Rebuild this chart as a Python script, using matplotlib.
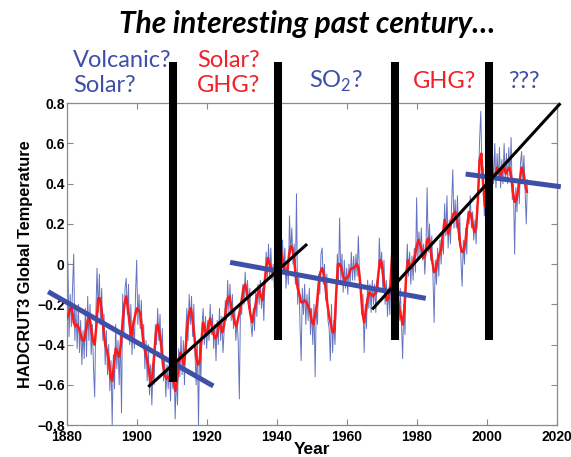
import matplotlib
matplotlib.use("Agg")
import matplotlib.pyplot as plt
import numpy as np

# ---------------- data ----------------
# smoothed series (red), every half year from 1880.0
red_vals = [
    -0.27, -0.25, -0.22, -0.22, -0.29, -0.31, -0.30, -0.32, -0.35, -0.38,
    -0.38, -0.33, -0.28, -0.26, -0.32, -0.38, -0.40, -0.30, -0.17, -0.17,
    -0.23, -0.32, -0.40, -0.43, -0.47, -0.56, -0.58, -0.50, -0.42, -0.44,
    -0.46, -0.40, -0.28, -0.20, -0.16, -0.22, -0.30, -0.36, -0.30, -0.26,
    -0.22, -0.23, -0.24, -0.32, -0.40, -0.44, -0.48, -0.53, -0.59, -0.55,
    -0.45, -0.34, -0.30, -0.34, -0.40, -0.50, -0.55, -0.57, -0.56, -0.58,
    -0.55, -0.58, -0.63, -0.58, -0.50, -0.44, -0.46, -0.50, -0.42, -0.30,
    -0.24, -0.22, -0.28, -0.36, -0.46, -0.50, -0.48, -0.38, -0.29, -0.33,
    -0.35, -0.30, -0.27, -0.31, -0.35, -0.37, -0.35, -0.29, -0.31, -0.34,
    -0.30, -0.22, -0.17, -0.16, -0.21, -0.25, -0.29, -0.31, -0.27, -0.23,
    -0.18, -0.12, -0.10, -0.14, -0.19, -0.25, -0.29, -0.24, -0.20, -0.15,
    -0.13, -0.16, -0.18, -0.10, -0.02, 0.03, 0.00, -0.02, -0.05, -0.06,
    0.00, 0.07, 0.09, 0.04, -0.01, -0.05, -0.04, 0.04, 0.09, 0.08,
    0.02, -0.06, -0.12, -0.15, -0.19, -0.19, -0.18, -0.19, -0.21, -0.23,
    -0.28, -0.30, -0.25, -0.20, -0.10, -0.04, -0.02, -0.05, -0.12, -0.20,
    -0.26, -0.30, -0.34, -0.33, -0.15, 0.00, 0.00, -0.02, -0.06, -0.08,
    -0.07, -0.06, -0.03, -0.02, -0.02, -0.01, 0.00, -0.03, -0.12, -0.24,
    -0.29, -0.23, -0.17, -0.14, -0.15, -0.16, -0.15, -0.14, -0.06, 0.02,
    0.01, -0.07, -0.14, -0.18, -0.17, -0.10, 0.05, 0.06, -0.10, -0.17,
    -0.21, -0.26, -0.30, -0.22, -0.06, 0.02, 0.00, -0.02, 0.01, 0.04,
    0.09, 0.12, 0.10, 0.07, 0.03, 0.05, 0.12, 0.13, 0.07, 0.01,
    -0.04, -0.03, 0.02, 0.05, 0.07, 0.15, 0.22, 0.19, 0.15, 0.18,
    0.22, 0.25, 0.26, 0.23, 0.17, 0.09, 0.06, 0.07, 0.12, 0.20,
    0.26, 0.25, 0.20, 0.16, 0.18, 0.32, 0.52, 0.55, 0.40, 0.29,
    0.30, 0.34, 0.41, 0.46, 0.45, 0.44, 0.48, 0.46, 0.44, 0.47,
    0.48, 0.45, 0.47, 0.48, 0.44, 0.36, 0.31, 0.32, 0.37, 0.42,
    0.48, 0.46, 0.40, 0.36,
]

# raw series (thin blue), three readings per year from 1880
blue_vals = [
    -0.30, 0.01, -0.36,   -0.15, -0.31, -0.12,   0.05, -0.38, -0.22,
    -0.42, -0.20, -0.44,  -0.28, -0.50, -0.33,   -0.47, -0.22, -0.46,
    -0.16, -0.38, -0.20,  -0.45, -0.30, -0.52,   -0.66, -0.25, -0.02,
    -0.24, -0.05, -0.30,  -0.12, -0.38, -0.25,   -0.50, -0.33, -0.55,
    -0.40, -0.63, -0.48,  -0.80, -0.45, -0.62,   -0.30, -0.52, -0.38,
    -0.60, -0.35, -0.74,  -0.15, -0.36, -0.12,   -0.07, -0.25, -0.10,
    -0.40, -0.20, -0.45,  -0.28, -0.42, -0.15,   0.02, -0.30, -0.15,
    -0.32, -0.18, -0.40,  -0.30, -0.52, -0.38,   -0.58, -0.40, -0.65,
    -0.50, -0.70, -0.52,  -0.60, -0.30, -0.40,   -0.22, -0.38, -0.25,
    -0.45, -0.32, -0.58,  -0.48, -0.66, -0.50,   -0.62, -0.48, -0.68,
    -0.46, -0.62, -0.50,  -0.77, -0.55, -0.70,   -0.42, -0.56, -0.36,
    -0.55, -0.38, -0.60,  -0.35, -0.22, -0.38,   -0.15, -0.30, -0.16,
    -0.36, -0.20, -0.45,  -0.60, -0.40, -0.80,   -0.38, -0.58, -0.30,
    -0.22, -0.40, -0.26,  -0.42, -0.28, -0.38,   -0.20, -0.35, -0.25,
    -0.42, -0.30, -0.48,  -0.28, -0.40, -0.22,   -0.38, -0.26, -0.44,
    -0.33, -0.18, -0.28,  -0.08, -0.24, -0.10,   -0.28, -0.15, -0.32,
    -0.22, -0.38, -0.28,  -0.38, -0.67, -0.20,   -0.25, -0.10, -0.20,
    -0.04, -0.18, -0.08,  -0.22, -0.12, -0.30,   -0.36, -0.22, -0.33,
    -0.14, -0.26, -0.10,  -0.20, -0.08, -0.22,   -0.12, -0.28, -0.06,
    0.06, -0.08, 0.10,    -0.06, 0.08, -0.08,    0.00, -0.12, 0.15,
    -0.04, 0.12, -0.02,   0.27, 0.02, 0.12,      -0.04, 0.08, -0.12,
    0.00, -0.10, 0.24,    0.05, 0.18, 0.00,      0.10, -0.10, 0.35,
    -0.20, -0.05, -0.30,  -0.48, -0.12, -0.25,   -0.10, -0.30, -0.15,
    -0.28, -0.12, -0.35,  -0.22, -0.40, -0.20,   -0.56, -0.20, -0.30,
    -0.05, -0.15, 0.05,   0.08, -0.10, 0.00,     -0.18, -0.05, -0.28,
    -0.32, -0.48, -0.20,  -0.44, -0.28, -0.40,   -0.22, 0.05, -0.08,
    0.23, -0.08, 0.05,    -0.14, 0.02, -0.12,    -0.02, -0.15, 0.00,
    -0.10, 0.06, -0.08,   0.04, -0.08, 0.05,     -0.06, 0.14, -0.04,
    -0.08, -0.25, -0.15,  -0.44, -0.20, -0.32,   -0.08, -0.22, -0.10,
    -0.24, -0.08, -0.20,  -0.10, -0.24, -0.08,   -0.12, 0.13, -0.02,
    0.06, -0.12, 0.02,    -0.20, -0.08, -0.26,   -0.12, -0.25, -0.05,
    0.12, -0.02, 0.10,    -0.06, -0.20, -0.08,   -0.28, -0.12, -0.30,
    -0.47, -0.20, -0.35,  -0.05, 0.10, -0.06,    0.06, -0.10, 0.04,
    -0.08, 0.08, -0.04,   0.33, 0.02, 0.16,      0.04, 0.18, 0.02,
    0.10, -0.05, 0.08,    0.38, 0.06, 0.20,      0.02, 0.14, -0.06,
    -0.29, 0.02, -0.10,   0.08, -0.06, 0.12,     0.00, 0.14, 0.05,
    0.30, 0.14, 0.34,     0.08, 0.22, 0.10,      0.30, 0.47, 0.18,
    0.32, 0.18, 0.34,     0.12, 0.24, 0.02,      -0.11, 0.12, 0.00,
    0.18, 0.05, 0.26,     0.20, 0.34, 0.18,      0.26, 0.12, 0.22,
    0.10, 0.28, 0.40,     0.62, 0.76, 0.45,      0.48, 0.24, 0.36,
    0.24, 0.38, 0.30,     0.48, 0.35, 0.56,      0.40, 0.60, 0.38,
    0.55, 0.42, 0.58,     0.38, 0.52, 0.40,      0.60, 0.42, 0.55,
    0.40, 0.58, 0.44,     0.63, 0.32, 0.40,      0.05, 0.38, 0.26,
    0.42, 0.30, 0.50,     0.56, 0.42, 0.54,      0.36, 0.20, 0.42,
]

# trend segments: (start year, start value, end year, end value)
blue_trends = [
    (1874.7, -0.137, 1921.9, -0.606),
    (1926.7, 0.009, 1982.6, -0.170),
    (1994.0, 0.448, 2021.2, 0.385),
]
black_trends = [
    (1903.3, -0.61, 1948.7, 0.10),
    (1967.3, -0.225, 2021.1, 0.80),
]

# vertical markers
bar_years = [1910.3, 1940.3, 1973.8, 2000.7]
bar_bottoms = [-0.585, -0.378, -0.378, -0.378]
bar_top = 1.005

x_ticks = [1880, 1900, 1920, 1940, 1960, 1980, 2000, 2020]
y_ticks = [-0.8, -0.6, -0.4, -0.2, 0.0, 0.2, 0.4, 0.6, 0.8]
y_tick_labels = ["\u22120.8", "\u22120.6", "\u22120.4", "\u22120.2", "0",
                 "0.2", "0.4", "0.6", "0.8"]

title_text = "The interesting past century\u2026"
xlabel_text = "Year"
ylabel_text = "HADCRUT3 Global Temperature"

# ---------------- figure ----------------
BLUE_TXT = "#3d4fa8"
RED_TXT = "#ee2228"
TREND_BLUE = "#3f50a6"

plt.rcParams["mathtext.fontset"] = "custom"
plt.rcParams["mathtext.rm"] = "Lato"

fig = plt.figure(figsize=(5.71, 4.57), dpi=100)
ax = fig.add_axes([0.1168, 0.070, 0.858, 0.704])

red_x = 1880 + 0.5 * np.arange(len(red_vals))
blue_x = 1880 + np.arange(len(blue_vals)) / 3.0

ax.plot(blue_x, blue_vals, color="#4a5bb5", lw=0.7, alpha=0.85, zorder=2)
ax.plot(red_x, red_vals, color="#ff1a1a", lw=1.8, zorder=3)

for x0, y0, x1, y1 in blue_trends:
    ax.plot([x0, x1], [y0, y1], color=TREND_BLUE, lw=3.6,
            solid_capstyle="butt", clip_on=False, zorder=4)
for x0, y0, x1, y1 in black_trends:
    ax.plot([x0, x1], [y0, y1], color="black", lw=2.2,
            solid_capstyle="butt", clip_on=False, zorder=5)
for xb, yb in zip(bar_years, bar_bottoms):
    ax.plot([xb, xb], [yb, bar_top], color="black", lw=5.8,
            solid_capstyle="butt", clip_on=False, zorder=6)

ax.set_xlim(1880, 2020)
ax.set_ylim(-0.8, 0.8)
ax.set_xticks(x_ticks)
ax.set_xticklabels([str(v) for v in x_ticks], fontweight="bold",
                   fontsize=10, family="Liberation Sans")
ax.set_yticks(y_ticks)
ax.set_yticklabels(y_tick_labels, fontweight="bold", fontsize=10,
                   family="Liberation Sans")
ax.tick_params(direction="in", length=4, width=0.8, color="#8a8a8a",
               top=True, right=True, pad=3.5)
ax.tick_params(axis="y", pad=1.5)
for s in ax.spines.values():
    s.set_color("#8a8a8a")
    s.set_linewidth(0.9)

ax.set_xlabel(xlabel_text, fontsize=12.5, fontweight="bold",
              family="Liberation Sans", labelpad=-1.5)
ax.set_ylabel(ylabel_text, fontsize=11.8, fontweight="bold",
              family="Liberation Sans", labelpad=3)

# ---------------- annotations ----------------
W, H = 571.0, 457.0
lab_font = ["Lato", "DejaVu Sans"]


def ftext(px, py, s, color):
    fig.text(px / W, 1 - py / H, s, color=color, ha="left", va="baseline",
             fontsize=17, family=lab_font)


ftext(73, 66.7, "Volcanic?", BLUE_TXT)
ftext(73, 91.7, "Solar?", BLUE_TXT)
ftext(197, 66.7, "Solar?", RED_TXT)
ftext(197, 91.7, "GHG?", RED_TXT)
ftext(309, 88.3, r"SO$_\mathregular{2}$?", BLUE_TXT)
ftext(413, 88.0, "GHG?", RED_TXT)
ftext(508, 87.7, "???", BLUE_TXT)

fig.text(307 / W, 1 - 33.3 / H, title_text, ha="center", va="baseline",
         fontsize=21.5, fontweight="bold", style="italic", family="Lato",
         color="black")

fig.savefig("out.png", dpi=100)
